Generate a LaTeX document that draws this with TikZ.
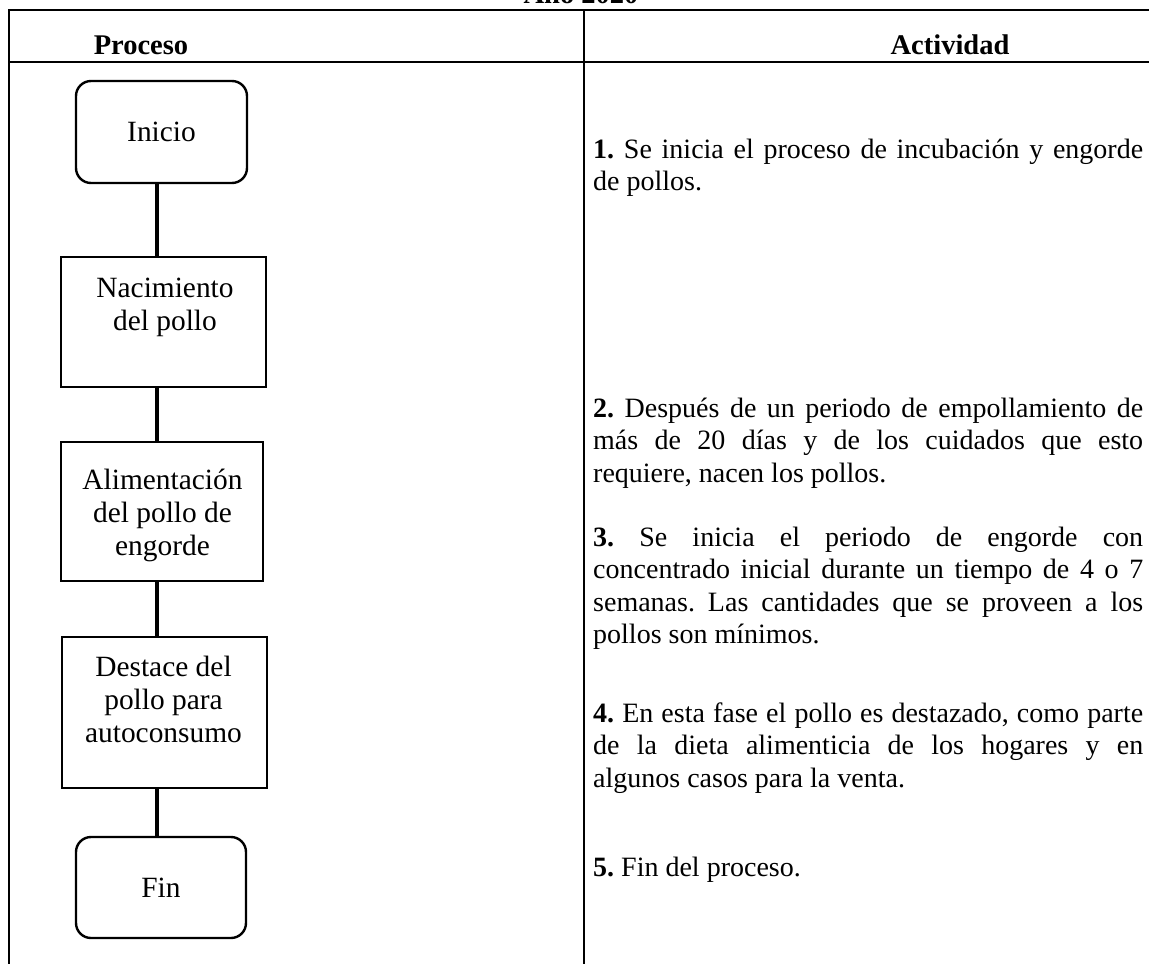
\documentclass[tikz,border=0pt]{standalone}
\usepackage{fontspec}
\setmainfont{Liberation Serif}
\begin{document}
\begin{tikzpicture}[x=1pt,y=-1pt,
  tline/.style={line width=2pt},
  conn/.style={line width=3.3pt},
  termbox/.style={draw, line width=2.4pt, rounded corners=15pt, inner sep=0pt,
    font=\fontsize{29.4}{33}\selectfont},
  procbox/.style={draw, line width=2.4pt, inner sep=0pt},
  boxtext/.style={font=\fontsize{29.4}{33}\selectfont, align=center, inner sep=0pt, anchor=base},
  headtext/.style={font=\fontsize{28.5}{33}\selectfont\bfseries, inner sep=0pt, anchor=base},
  bodytext/.style={font=\fontsize{28}{32.5}\selectfont\frenchspacing, text width=550pt, align=justify,
    inner sep=0pt, anchor=base west}]
\useasboundingbox (0,0) rectangle (1149,964);
% table frame
\coordinate (tl) at (9,10);
\coordinate (tr) at (1160,10);
\coordinate (hl) at (9,62);
\coordinate (hr) at (1160,62);
\coordinate (bl) at (9,975);
\coordinate (dt) at (584,10);
\coordinate (db) at (584,975);
\draw[tline] (tr) -- (tl) -- (bl);
\draw[tline] (hl) -- (hr);
\draw[tline] (dt) -- (db);
% headings
\node[headtext] (year) at (581,3.5) {Año 2020};
\node[headtext] (hproc) at (141,54) {Proceso};
\node[headtext] (hact) at (950,54) {Actividad};
% flow boxes
\node[termbox, minimum width=171pt, minimum height=102pt] (ini) at (161.5,132) {Inicio};
\node[procbox, minimum width=205pt, minimum height=130pt] (nac) at (163.5,322) {};
\node[procbox, minimum width=202pt, minimum height=139pt] (ali) at (162,511.5) {};
\node[procbox, minimum width=205pt, minimum height=151pt] (des) at (164.5,712.5) {};
\node[termbox, minimum width=170pt, minimum height=101pt] (fin) at (161,887.5) {Fin};
\node[boxtext] (nact) at (165,330) {Nacimiento\\del pollo};
\node[boxtext] (alit) at (162.5,555) {Alimentación\\del pollo de\\engorde};
\node[boxtext] (dest) at (163.5,742) {Destace del\\pollo para\\autoconsumo};
% connectors
\coordinate (cx) at (157,0);
\draw[conn] (ini.south -| cx) -- (nac.north -| cx);
\draw[conn] (nac.south -| cx) -- (ali.north -| cx);
\draw[conn] (ali.south -| cx) -- (des.north -| cx);
\draw[conn] (des.south -| cx) -- (fin.north -| cx);
% activities
\node[bodytext] (a1) at (593,158) {\textbf{1.} Se inicia el proceso de incubación y engorde\linebreak de pollos.};
\node[bodytext] (a2) at (593,417) {\textbf{2.} Después de un periodo de empollamiento de\linebreak más de 20 días y de los cuidados que esto\linebreak requiere, nacen los pollos.};
\node[bodytext] (a3) at (593,546) {\textbf{3.} Se inicia el periodo de engorde con\linebreak concentrado inicial durante un tiempo de 4 o 7\linebreak semanas. Las cantidades que se proveen a los\linebreak pollos son mínimos.};
\node[bodytext] (a4) at (593,722) {\textbf{4.} En esta fase el pollo es destazado, como parte\linebreak de la dieta alimenticia de los hogares y en\linebreak algunos casos para la venta.};
\node[bodytext] (a5) at (593,876) {\textbf{5.} Fin del proceso.};
\end{tikzpicture}
\end{document}
